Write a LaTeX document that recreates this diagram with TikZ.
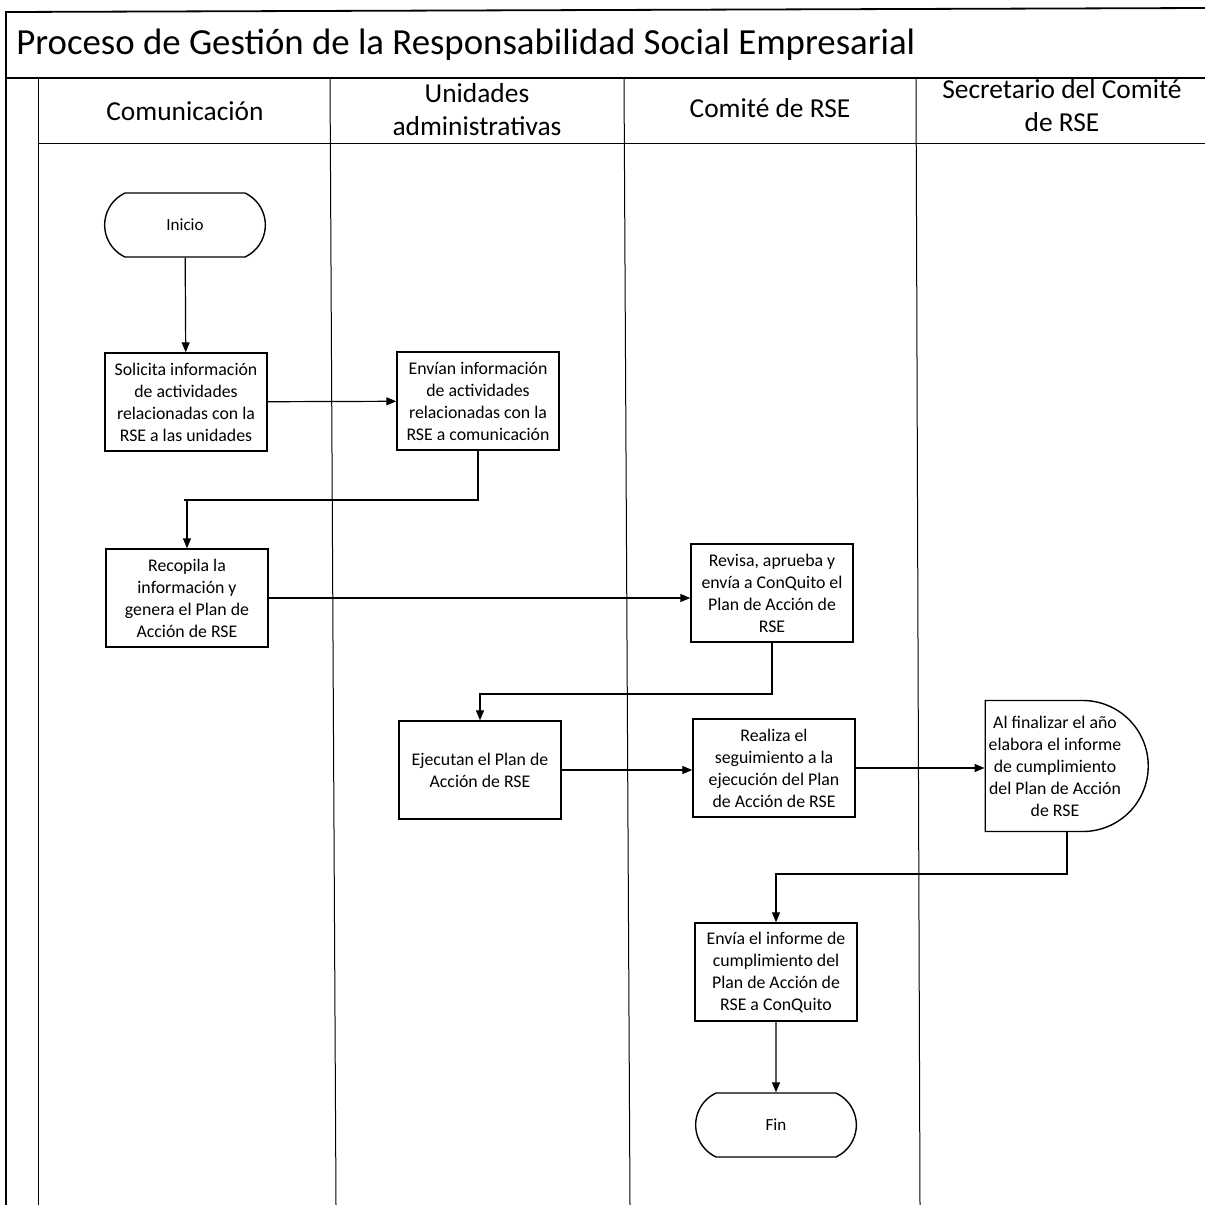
\documentclass[tikz,border=0pt]{standalone}
\usepackage{fontspec}
\setmainfont{Carlito}
\usetikzlibrary{arrows.meta,shapes.misc}
\begin{document}
\begin{tikzpicture}[x=0.5pt,y=-0.5pt,
  lane/.style={line width=0.5pt},
  frame/.style={line width=0.9pt},
  proc/.style={draw,line width=0.7pt,minimum width=81pt,minimum height=49pt,align=center,inner sep=1pt,font=\fontsize{8.9}{11}\selectfont},
  term/.style={draw,line width=0.7pt,rounded rectangle,rounded rectangle arc length=130,minimum width=87pt,minimum height=32pt,font=\fontsize{8.5}{10}\selectfont},
  delay/.style={draw,line width=0.7pt,rounded rectangle,rounded rectangle left arc=none,minimum width=81.5pt,minimum height=65.5pt,align=center,inner sep=0pt,font=\fontsize{8.9}{11}\selectfont},
  hdr/.style={align=center,font=\fontsize{13.7}{16.5}\selectfont},
  arr/.style={line width=0.6pt,-{Triangle[length=5pt,width=4pt]}}
]
\useasboundingbox (0,0) rectangle (1205,1205);
% frame
\draw[frame] (6,1205) -- (6,12) -- (1205,8);
\draw[frame] (6,78) -- (1205,78);
\draw[lane] (38,78) -- (38,1205);
\draw[lane] (38,143) -- (1205,143);
\draw[lane] (330,78) -- (336,1205);
\draw[lane] (624,78) -- (630,1205);
\draw[lane] (916,78) -- (920,1205);
% title
\node[anchor=west,font=\fontsize{18.4}{21}\selectfont,inner sep=0pt] (title) at (16,45) {Proceso de Gestión de la Responsabilidad Social Empresarial};
% headers
\node[hdr] (h1) at (185,111) {Comunicación};
\node[hdr] (h2) at (477,110) {Unidades\\administrativas};
\node[hdr] (h3) at (770,108) {Comité de RSE};
\node[hdr] (h4) at (1062,106) {Secretario del Comité\\de RSE};
% nodes
\node[term] (inicio) at (185,225) {Inicio};
\node[proc] (solicita) at (186,402) {Solicita información\\de actividades\\relacionadas con la\\RSE a las unidades};
\node[proc] (envian) at (478,401) {Envían información\\de actividades\\relacionadas con la\\RSE a comunicación};
\node[proc] (recopila) at (187,598) {Recopila la\\información y\\genera el Plan de\\Acción de RSE};
\node[proc] (revisa) at (772,593) {Revisa, aprueba y\\envía a ConQuito el\\Plan de Acción de\\RSE};
\node[proc] (ejecutan) at (480,770) {Ejecutan el Plan de\\Acción de RSE};
\node[proc] (realiza) at (774,768) {Realiza el\\seguimiento a la\\ejecución del Plan\\de Acción de RSE};
\node[delay] (finaliza) at (1055,766) {Al finalizar el año\\elabora el informe\\de cumplimiento\\del Plan de Acción\\de RSE};
\node[proc] (envia) at (776,972) {Envía el informe de\\cumplimiento del\\Plan de Acción de\\RSE a ConQuito};
\node[term] (fin) at (776,1125) {Fin};
% connectors
\draw[arr] (inicio) -- (solicita);
\draw[arr] (solicita) -- (envian);
\draw[arr] (envian.south) |- (184,500) coordinate (c1) -| (recopila.north);
\draw[arr] (recopila) -- (revisa.west |- recopila.east);
\draw[arr] (revisa.south) |- (481,694) coordinate (c2) -| (ejecutan.north);
\draw[arr] (ejecutan) -- (ejecutan.east -| realiza.west);
\draw[arr] (realiza) -- (realiza.east -| finaliza.west);
\draw[arr] (1067,832) |- (775,874) coordinate (c3) -| (envia.north);
\draw[arr] (envia) -- (fin);
\end{tikzpicture}
\end{document}
